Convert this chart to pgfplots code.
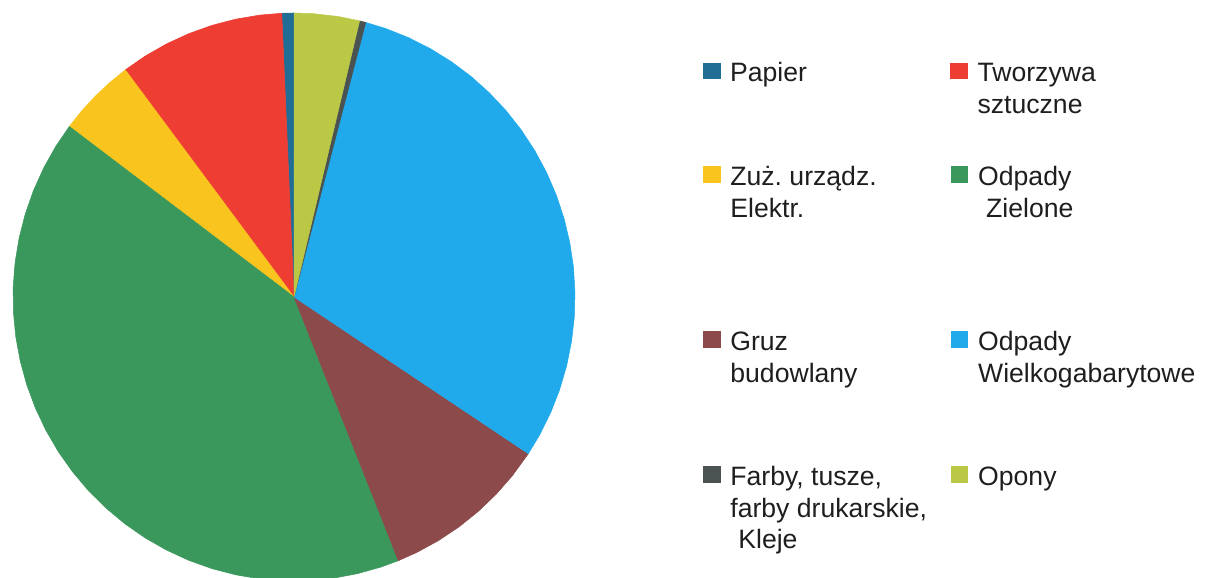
\documentclass[border=0pt]{standalone}
\usepackage{pgfplots}
\pgfplotsset{compat=1.18}
\usepackage{fontspec}
\setmainfont{Liberation Sans}
\frenchspacing

\definecolor{cPapier}{RGB}{32,110,150}
\definecolor{cTworzywa}{RGB}{238,62,52}
\definecolor{cZuz}{RGB}{250,196,30}
\definecolor{cZielone}{RGB}{58,152,92}
\definecolor{cGruz}{RGB}{140,74,74}
\definecolor{cWielko}{RGB}{32,170,235}
\definecolor{cFarby}{RGB}{75,82,82}
\definecolor{cOpony}{RGB}{186,200,70}
\definecolor{txt}{RGB}{30,30,30}

% every axis covers the whole picture (603pt x 289pt); 1 unit = pie radius
\pgfplotsset{
  canvasbox/.style={scale only axis, width=603pt, height=289pt,
    at={(0pt,0pt)}, anchor=south west, hide axis, clip=true,
    xmin=-1.04626, xmax=3.24555, ymin=-0.98944, ymax=1.04577,
    legend columns=2,
    legend style={draw=none, fill=none, inner sep=0pt, outer sep=0pt,
      column sep=0pt, row sep=0pt, anchor=north west, text=txt,
      font=\fontsize{13.3pt}{15.7pt}\selectfont,
      nodes={inner sep=0pt, outer sep=0pt}, cells={anchor=base west}}},
  sq/.style={legend image code/.code={\fill[#1] (0pt,1.8pt) rectangle (8.3pt,9.6pt); \path (0pt,0pt) (13.3pt,0pt);}},
  slice/.style={data cs=polar, fill=#1, draw=#1, line width=0.25pt, sq=#1},
}

\begin{document}
\begin{tikzpicture}
\path[use as bounding box] (0,0) rectangle (603pt,289pt);

% pie: slices as (angle in degrees, radius), counterclockwise from 12 o'clock
\begin{axis}[canvasbox, legend style={at={(0.5829,0.89619)}}]
\addplot[slice=cPapier] coordinates {(0,0) (90,1) (92.5,1) (0,0)};
\addlegendentry{\parbox[t]{110.2pt}{\strut Papier}}
\addplot[slice=cTworzywa] coordinates {(0,0) (92.5,1) (97,1) (102,1) (107,1) (112,1) (117,1) (122,1) (126.9,1) (0,0)};
\addlegendentry{\parbox[t]{130pt}{\strut Tworzywa\\sztuczne}}
\addplot[slice=cZuz] coordinates {(0,0) (126.9,1) (131,1) (135,1) (139,1) (143.1,1) (0,0)};
\addplot[slice=cZielone] coordinates {(0,0) (143.1,1) (148,1) (153,1) (158,1) (163,1) (168,1) (173,1) (178,1) (183,1) (188,1) (193,1) (198,1) (203,1) (208,1) (213,1) (218,1) (223,1) (228,1) (233,1) (238,1) (243,1) (248,1) (253,1) (258,1) (263,1) (268,1) (273,1) (278,1) (283,1) (288,1) (291.8,1) (0,0)};
\addplot[slice=cGruz] coordinates {(0,0) (291.8,1) (296,1) (301,1) (306,1) (311,1) (316,1) (321,1) (326.5,1) (0,0)};
\addplot[slice=cWielko] coordinates {(0,0) (326.5,1) (331,1) (336,1) (341,1) (346,1) (351,1) (356,1) (361,1) (366,1) (371,1) (376,1) (381,1) (386,1) (391,1) (396,1) (401,1) (406,1) (411,1) (416,1) (421,1) (426,1) (431,1) (435.2,1) (0,0)};
\addplot[slice=cFarby] coordinates {(0,0) (435.2,1) (436.5,1) (0,0)};
\addplot[slice=cOpony] coordinates {(0,0) (436.5,1) (441,1) (446,1) (450,1) (0,0)};
\end{axis}

% legend rows 2-4
\begin{axis}[canvasbox, legend style={at={(0.5829,0.71626)}}]
\addlegendimage{sq=cZuz}
\addlegendentry{\parbox[t]{110.2pt}{\strut Zuż. urządz.\\Elektr.}}
\addlegendimage{sq=cZielone}
\addlegendentry{\parbox[t]{130pt}{\strut Odpady\\\hspace*{4pt}Zielone}}
\end{axis}

\begin{axis}[canvasbox, legend style={at={(0.5829,0.43080)}}]
\addlegendimage{sq=cGruz}
\addlegendentry{\parbox[t]{110.2pt}{\strut Gruz\\budowlany}}
\addlegendimage{sq=cWielko}
\addlegendentry{\parbox[t]{130pt}{\strut Odpady\\Wielkogabarytowe}}
\end{axis}

\begin{axis}[canvasbox, legend style={at={(0.5829,0.19723)}}]
\addlegendimage{sq=cFarby}
\addlegendentry{\parbox[t]{110.2pt}{\strut Farby, tusze,\\farby drukarskie,\\\hspace*{4pt}Kleje}}
\addlegendimage{sq=cOpony}
\addlegendentry{\parbox[t]{130pt}{\strut Opony}}
\end{axis}
\end{tikzpicture}
\end{document}
